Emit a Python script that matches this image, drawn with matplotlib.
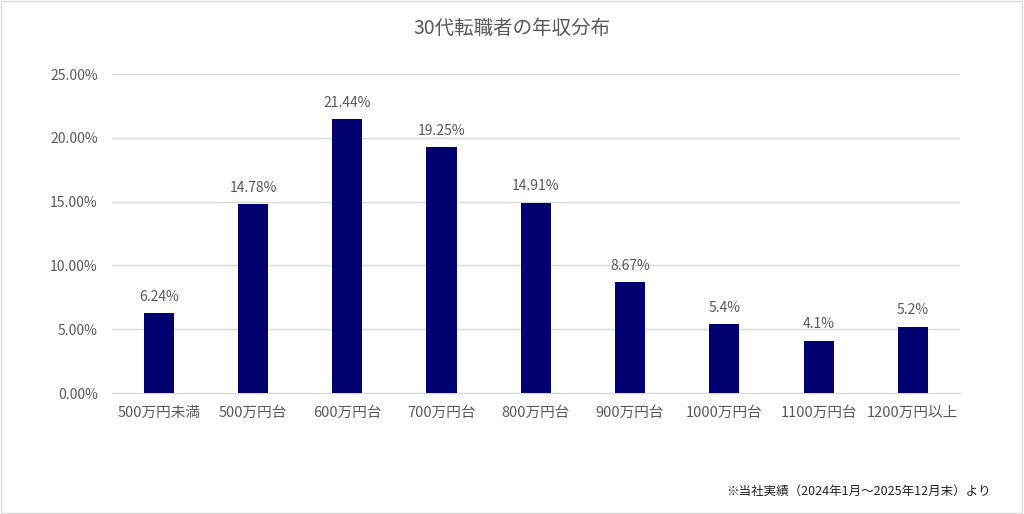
import matplotlib
matplotlib.use('Agg')
import matplotlib.pyplot as plt
from matplotlib.patches import Rectangle
import numpy as np

plt.rcParams['font.family'] = ['Noto Sans CJK JP', 'DejaVu Sans']

# data
categories = ['500万円未満', '500万円台', '600万円台', '700万円台', '800万円台',
              '900万円台', '1000万円台', '1100万円台', '1200万円以上']
values = [6.24, 14.78, 21.44, 19.25, 14.91, 8.67, 5.4, 4.1, 5.2]
value_labels = ['6.24%', '14.78%', '21.44%', '19.25%', '14.91%',
                '8.67%', '5.4%', '4.1%', '5.2%']
y_ticks = [0, 5, 10, 15, 20, 25]

text_color = '#595959'
bar_color = '#000070'
grid_color = '#d9d9d9'

fig = plt.figure(figsize=(10.24, 5.14), dpi=100)
ax = fig.add_axes([0.109, 0.2354, 0.8285, 0.6206])

x = np.arange(len(categories))
bars = ax.bar(x, values, width=0.32, color=bar_color, zorder=3)

for xi, v, lab in zip(x, values, value_labels):
    ax.text(xi, v + 0.75, lab, ha='center', va='bottom',
            fontsize=10, color=text_color)

ax.set_xlim(-0.5, len(categories) - 0.5)
ax.set_ylim(0, 25)
ax.set_yticks(y_ticks)
ax.set_yticklabels([f'{t:.2f}%' for t in y_ticks], fontsize=10, color=text_color)
ax.set_xticks(x)
ax.set_xticklabels(categories, fontsize=10.5, color=text_color)
ax.tick_params(axis='both', length=0)
ax.tick_params(axis='y', pad=10)
ax.tick_params(axis='x', pad=9)

ax.yaxis.grid(True, color=grid_color, linewidth=1, zorder=0)
for side in ['top', 'right', 'left']:
    ax.spines[side].set_visible(False)
ax.spines['bottom'].set_color(grid_color)

fig.text(0.5, 0.945, '30代転職者の年収分布', ha='center', va='center',
         fontsize=14, color=text_color)
fig.text(0.968, 0.045, '※当社実績（2024年1月～2025年12月末）より',
         ha='right', va='center', fontsize=9, color='#222222')

# light border round the whole chart
fig.patches.append(Rectangle((0.001, 0.002), 0.997, 0.996, transform=fig.transFigure,
                             fill=False, edgecolor='#d9d9d9', linewidth=1))

fig.savefig('out.png', dpi=100)
plt.close(fig)
